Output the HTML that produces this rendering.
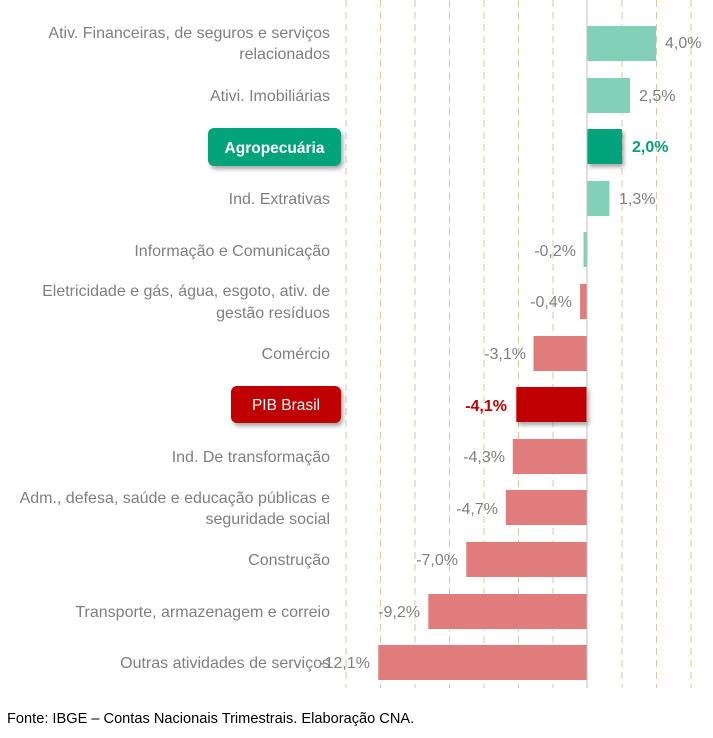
<!DOCTYPE html>
<html><head><meta charset="utf-8"><style>
body{margin:0;background:#fff;}
svg text{font-family:"Liberation Sans",sans-serif;}
</style></head><body>
<svg width="713" height="733" viewBox="0 0 713 733" xmlns="http://www.w3.org/2000/svg">
<defs><filter id="sh" x="-10%" y="-20%" width="130%" height="160%"><feDropShadow dx="2" dy="3" stdDeviation="2" flood-color="#000" flood-opacity="0.35"/></filter></defs>
<g stroke="#d6c9a0" stroke-width="1" stroke-dasharray="7,5">
<line x1="346" y1="0" x2="346" y2="688"/><line x1="380.5" y1="0" x2="380.5" y2="688"/>
<line x1="415" y1="0" x2="415" y2="688"/><line x1="449.5" y1="0" x2="449.5" y2="688"/>
<line x1="484" y1="0" x2="484" y2="688"/><line x1="518.5" y1="0" x2="518.5" y2="688"/>
<line x1="553" y1="0" x2="553" y2="688"/><line x1="622" y1="0" x2="622" y2="688"/>
<line x1="656.5" y1="0" x2="656.5" y2="688"/><line x1="691" y1="0" x2="691" y2="688"/>
</g>
<g>
<rect x="587" y="26" width="69" height="35" fill="#82d0b8"/>
<rect x="587" y="78" width="43" height="35" fill="#82d0b8"/>
<rect x="587" y="129" width="35" height="35" fill="#02a37a" filter="url(#sh)"/>
<rect x="587" y="181" width="22.4" height="35" fill="#82d0b8"/>
<rect x="583.5" y="232" width="3.5" height="35" fill="#82d0b8"/>
<rect x="580.1" y="284" width="6.9" height="35" fill="#e07c7c"/>
<rect x="533.5" y="336" width="53.5" height="35" fill="#e07c7c"/>
<rect x="516.3" y="387" width="70.7" height="35" fill="#c00000" filter="url(#sh)"/>
<rect x="512.8" y="439" width="74.2" height="35" fill="#e07c7c"/>
<rect x="505.9" y="490" width="81.1" height="35" fill="#e07c7c"/>
<rect x="466.3" y="542" width="120.7" height="35" fill="#e07c7c"/>
<rect x="428.3" y="594" width="158.7" height="35" fill="#e07c7c"/>
<rect x="378.3" y="645" width="208.7" height="35" fill="#e07c7c"/>
</g>
<line x1="587" y1="0" x2="587" y2="688" stroke="#bfbfbf" stroke-width="1"/>
<g font-size="16" fill="#7f7f7f">
<text x="665" y="48">4,0%</text>
<text x="639" y="101">2,5%</text>
<text x="632" y="152" fill="#02a37a" font-weight="bold">2,0%</text>
<text x="619" y="204">1,3%</text>
<g text-anchor="end">
<text x="576" y="256">-0,2%</text>
<text x="572" y="307">-0,4%</text>
<text x="526" y="359">-3,1%</text>
<text x="507" y="411" fill="#c00000" font-weight="bold">-4,1%</text>
<text x="505" y="462">-4,3%</text>
<text x="498" y="514">-4,7%</text>
<text x="458" y="565">-7,0%</text>
<text x="420" y="617">-9,2%</text>
<text x="370" y="668">-12,1%</text>
</g>
</g>
<g font-size="16" fill="#7f7f7f" text-anchor="end">
<text x="330" y="38">Ativ. Financeiras, de seguros e serviços</text>
<text x="330" y="59">relacionados</text>
<text x="330" y="101">Ativi. Imobiliárias</text>
<text x="330" y="204">Ind. Extrativas</text>
<text x="330" y="256">Informação e Comunicação</text>
<text x="330" y="296">Eletricidade e gás, água, esgoto, ativ. de</text>
<text x="330" y="318">gestão resíduos</text>
<text x="330" y="359">Comércio</text>
<text x="330" y="462">Ind. De transformação</text>
<text x="330" y="503">Adm., defesa, saúde e educação públicas e</text>
<text x="330" y="524">seguridade social</text>
<text x="330" y="565">Construção</text>
<text x="330" y="617">Transporte, armazenagem e correio</text>
<text x="330" y="668">Outras atividades de serviços</text>
</g>
<rect x="208" y="128" width="133" height="38" rx="6" fill="#02a37a" filter="url(#sh)"/>
<text x="274.5" y="153" font-size="15.5" font-weight="bold" fill="#fff" text-anchor="middle">Agropecuária</text>
<rect x="231" y="386" width="110" height="37" rx="6" fill="#c00000" filter="url(#sh)"/>
<text x="286" y="410" font-size="15.5" fill="#fff" text-anchor="middle">PIB Brasil</text>
<text x="7" y="723" font-size="14.6" fill="#000">Fonte: IBGE – Contas Nacionais Trimestrais. Elaboração CNA.</text>
</svg>
</body></html>
